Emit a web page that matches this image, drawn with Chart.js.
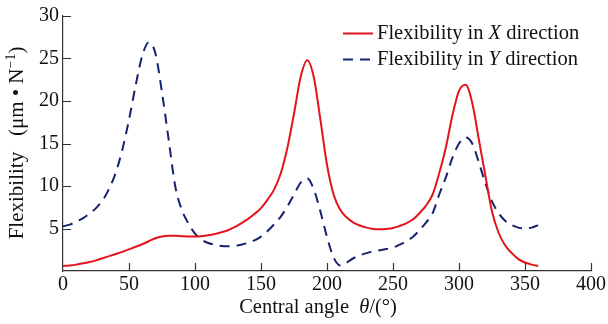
<!DOCTYPE html>
<html>
<head>
<meta charset="utf-8">
<script src="https://cdn.jsdelivr.net/npm/chart.js@4.4.1/dist/chart.umd.min.js"></script>
<style>
  html, body { margin: 0; padding: 0; background: #fff; }
  #wrap { width: 608px; height: 324px; position: relative; }
</style>
</head>
<body>
<div id="wrap"><canvas id="chart" width="608" height="324"></canvas></div>
<script>
// Central angle samples (degrees)
const angles = [
  0, 5, 10, 15, 20, 25, 30, 35, 40, 45, 50, 55, 60, 65, 70, 75, 80, 85, 90, 95,
  100, 105, 110, 115, 120, 125, 130, 135, 140, 145, 150, 155, 160, 165, 170, 175,
  180, 185, 190, 195, 200, 205, 210, 215, 220, 225, 230, 235, 240, 245, 250, 255,
  260, 265, 270, 275, 280, 285, 290, 295, 300, 305, 310, 315, 320, 325, 330, 335,
  340, 345, 350, 355, 360
];

// Flexibility in X direction (um/N)
const flexX = [
  0.6, 0.65, 0.75, 0.9, 1.05, 1.25, 1.5, 1.75, 2.0, 2.25, 2.55, 2.85, 3.15, 3.5, 3.85, 4.05, 4.15, 4.15, 4.1, 4.05,
  4.05, 4.1, 4.2, 4.35, 4.55, 4.8, 5.15, 5.6, 6.1, 6.7, 7.4, 8.4, 9.6, 11.5, 14.5, 18.5,
  22.8, 24.8, 22.8, 17.8, 12.5, 9.0, 7.2, 6.3, 5.7, 5.35, 5.1, 4.95, 4.9, 4.95, 5.05, 5.3,
  5.6, 6.05, 6.8, 7.7, 9.0, 11.5, 14.5, 18.3, 21.2, 21.9, 19.8, 15.5, 11.2, 7.0, 4.5, 3.0,
  2.1, 1.4, 1.0, 0.75, 0.6
];

// Flexibility in Y direction (um/N)
const flexY = [
  5.25, 5.45, 5.8, 6.2, 6.75, 7.4, 8.3, 9.7, 11.6, 14.3, 17.8, 21.8, 25.3, 26.9, 25.6, 21.0, 15.5, 10.0, 7.2, 5.6,
  4.4, 3.7, 3.3, 3.1, 2.95, 2.9, 2.95, 3.1, 3.3, 3.6, 4.05, 4.7, 5.5, 6.4, 7.6, 9.0,
  10.4, 10.9, 9.6, 7.0, 4.0, 1.6, 0.65, 1.0, 1.5, 1.85, 2.1, 2.3, 2.45, 2.6, 2.75, 3.1,
  3.5, 4.0, 4.8, 5.7, 6.8, 9.0, 11.0, 13.3, 15.0, 15.7, 15.0, 12.8, 10.3, 8.2, 6.8, 5.9,
  5.4, 5.1, 5.0, 5.1, 5.4
];

const xTicks = [0, 50, 100, 150, 200, 250, 300, 350, 400];
const yTicks = [5, 10, 15, 20, 25, 30];

const RED = '#e3141c';
const NAVY = '#15236e';
const AXIS = '#333333';
const FONT = '"Liberation Serif", "DejaVu Serif", serif';
const FSIZE = 20;

const toPoints = (ys) => ys.map((y, i) => ({ x: angles[i], y }));

// Draw text made of parts, some italic / superscript
function richText(ctx, parts, x, y, size, align) {
  const fontOf = (p) => `${p.italic ? 'italic ' : ''}${p.sup ? Math.round(size * 0.65) : size}px ${FONT}`;
  let total = 0;
  parts.forEach(p => { ctx.font = fontOf(p); total += ctx.measureText(p.t).width; });
  let cx = align === 'center' ? x - total / 2 : x;
  ctx.textAlign = 'left';
  ctx.textBaseline = 'alphabetic';
  parts.forEach(p => {
    ctx.font = fontOf(p);
    ctx.fillText(p.t, cx, p.sup ? y - size * 0.38 : y);
    cx += ctx.measureText(p.t).width;
  });
}

const decorPlugin = {
  id: 'decor',
  afterDraw(chart) {
    const { ctx, chartArea, scales } = chart;
    ctx.save();
    ctx.strokeStyle = AXIS;
    ctx.lineWidth = 1.2;
    // inward tick marks
    ctx.beginPath();
    yTicks.forEach(v => {
      const py = Math.round(scales.y.getPixelForValue(v)) + 0.5;
      ctx.moveTo(chartArea.left, py);
      ctx.lineTo(chartArea.left + 8, py);
    });
    xTicks.slice(1).forEach(v => {
      const px = Math.round(scales.x.getPixelForValue(v)) + 0.5;
      ctx.moveTo(px, chartArea.bottom);
      ctx.lineTo(px, chartArea.bottom - 8);
    });
    ctx.stroke();

    // legend
    const items = [
      { color: RED, dash: [], parts: [{ t: 'Flexibility in ' }, { t: 'X', italic: true }, { t: ' direction' }], y: 33 },
      { color: NAVY, dash: [10, 7], parts: [{ t: 'Flexibility in ' }, { t: 'Y', italic: true }, { t: ' direction' }], y: 59 }
    ];
    items.forEach(it => {
      ctx.strokeStyle = it.color;
      ctx.lineWidth = 2;
      ctx.setLineDash(it.dash);
      ctx.beginPath();
      ctx.moveTo(343, it.y + 0.5);
      ctx.lineTo(373, it.y + 0.5);
      ctx.stroke();
      ctx.setLineDash([]);
      ctx.fillStyle = '#111';
      richText(ctx, it.parts, 377, it.y + 6, 20.5, 'left');
    });

    // x axis title
    richText(ctx, [{ t: 'Central angle  ' }, { t: 'θ', italic: true }, { t: '/(°)' }], 318, 313, 20.5, 'center');

    // y axis title (rotated)
    ctx.translate(23, 143);
    ctx.rotate(-Math.PI / 2);
    richText(ctx, [{ t: 'Flexibility   (μm • N' }, { t: '−1', sup: true }, { t: ')' }], 0, 0, 21, 'center');
    ctx.restore();
  }
};

new Chart(document.getElementById('chart'), {
  type: 'line',
  data: {
    datasets: [
      {
        label: 'Flexibility in X direction',
        data: toPoints(flexX),
        borderColor: RED,
        borderWidth: 2,
        pointRadius: 0,
        cubicInterpolationMode: 'monotone',
        fill: false
      },
      {
        label: 'Flexibility in Y direction',
        data: toPoints(flexY),
        borderColor: NAVY,
        borderWidth: 2,
        borderDash: [10, 7],
        pointRadius: 0,
        cubicInterpolationMode: 'monotone',
        fill: false
      }
    ]
  },
  options: {
    responsive: false,
    animation: false,
    layout: { padding: { top: 15, right: 16, left: 0, bottom: 0 } },
    plugins: { legend: { display: false }, tooltip: { enabled: false } },
    scales: {
      x: {
        type: 'linear',
        min: 0,
        max: 400,
        afterFit: (s) => { s.height = 53; },
        afterBuildTicks: (s) => { s.ticks = xTicks.map(v => ({ value: v })); },
        grid: { display: false, drawTicks: false },
        border: { display: true, color: AXIS, width: 1.2 },
        ticks: { color: '#111', font: { family: FONT, size: FSIZE }, padding: 2, maxRotation: 0 }
      },
      y: {
        min: 0,
        max: 30,
        afterFit: (s) => { s.width = 63; },
        afterBuildTicks: (s) => { s.ticks = yTicks.map(v => ({ value: v })); },
        grid: { display: false, drawTicks: false },
        border: { display: true, color: AXIS, width: 1.2 },
        ticks: { color: '#111', font: { family: FONT, size: FSIZE }, padding: 4 }
      }
    }
  },
  plugins: [decorPlugin]
});
</script>
</body>
</html>
